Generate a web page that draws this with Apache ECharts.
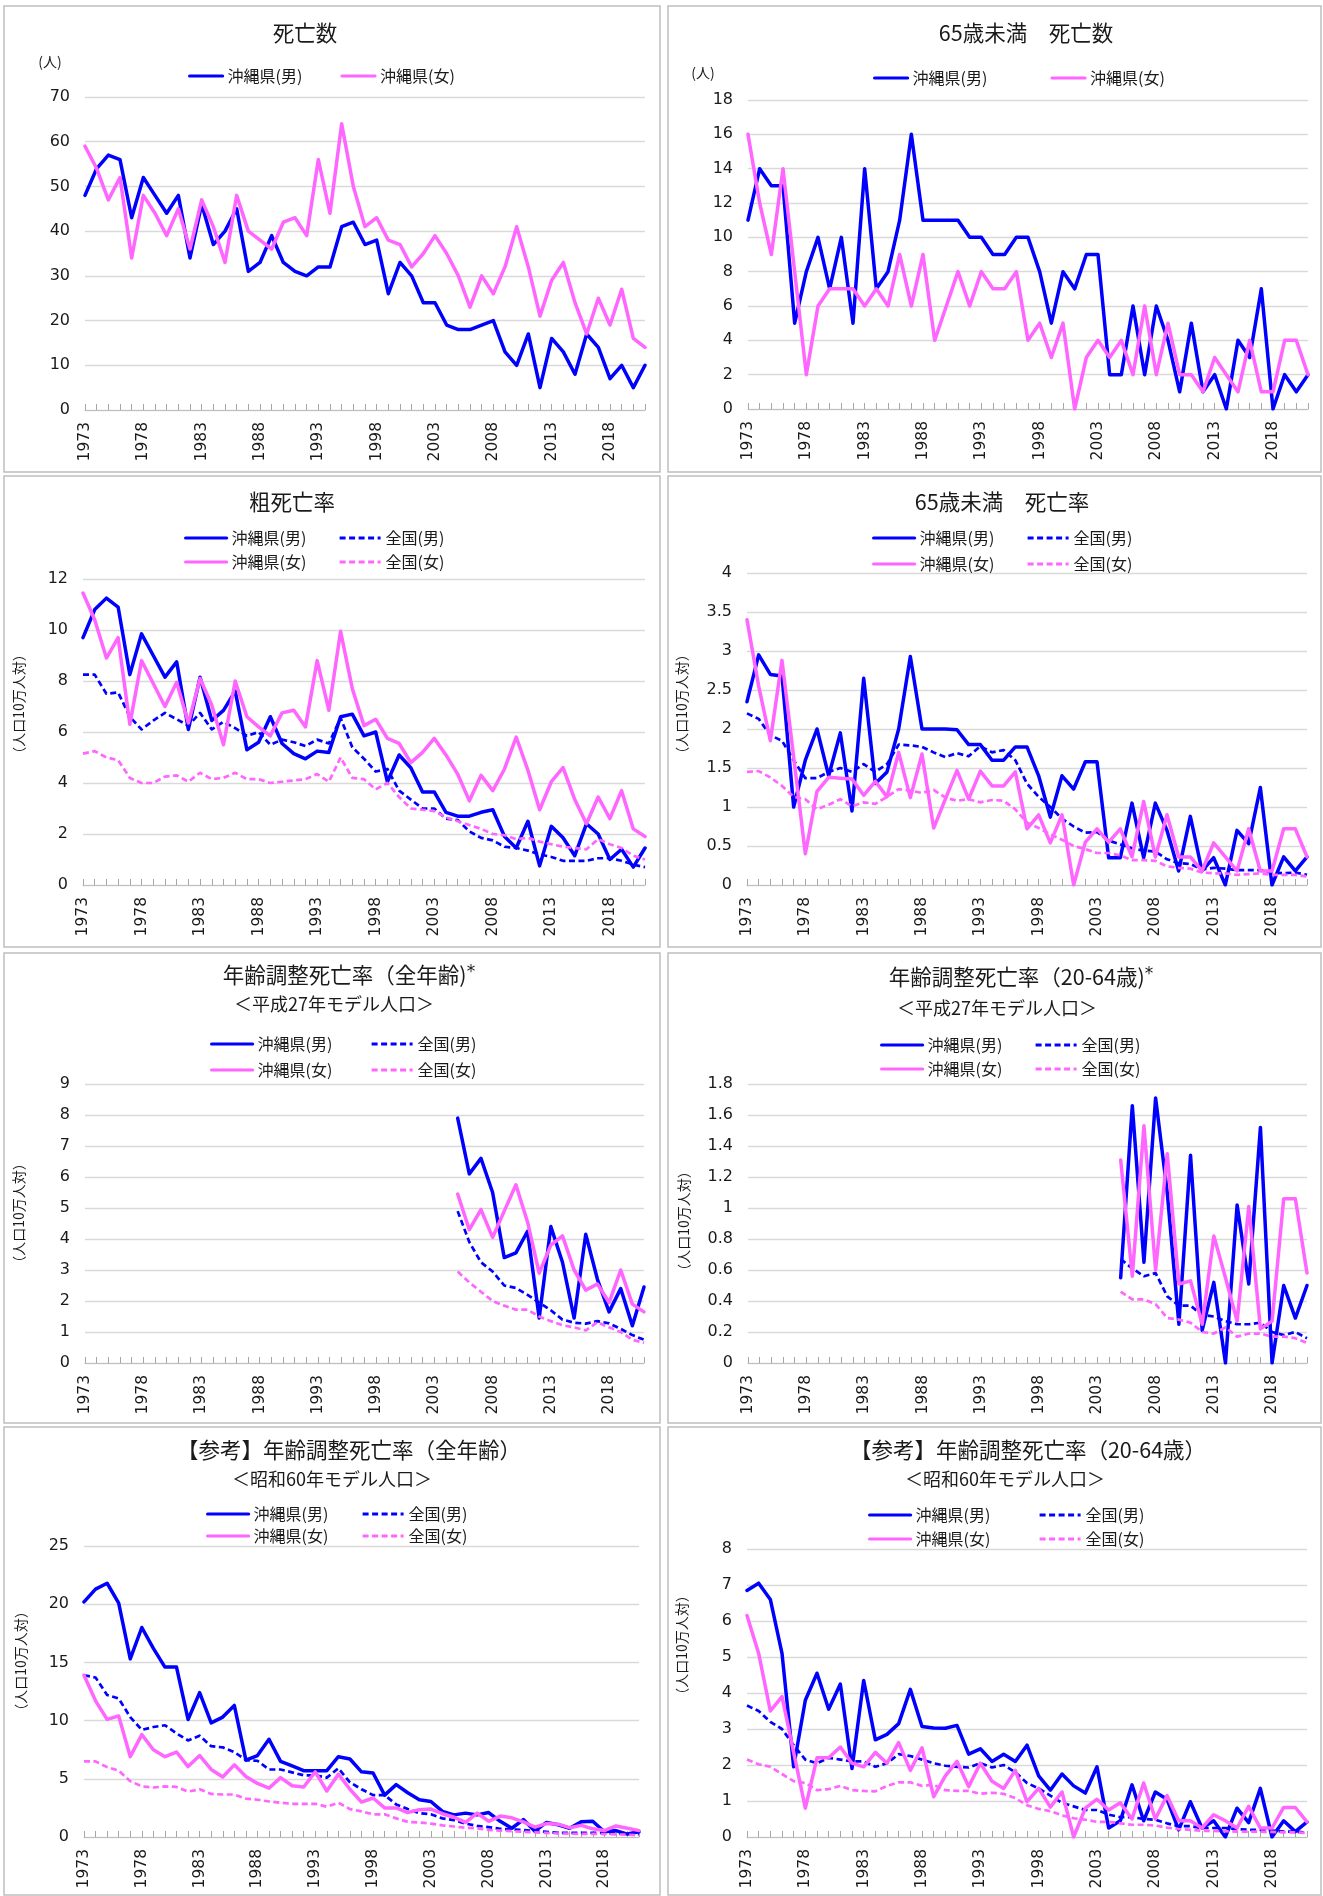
<!DOCTYPE html>
<html>
<head>
<meta charset="utf-8">
<title>沖縄県 死亡数・死亡率の推移</title>
<script src="https://cdn.jsdelivr.net/npm/echarts@6/dist/echarts.min.js"></script>
<style>
  html, body { margin: 0; padding: 0; background: #ffffff; }
  #chart { width: 1323px; height: 1896px; }
</style>
</head>
<body>
<div id="chart"></div>
<script>
// ---- categories (years) ----
const years = ['1973','1974','1975','1976','1977','1978','1979','1980','1981','1982',
  '1983','1984','1985','1986','1987','1988','1989','1990','1991','1992',
  '1993','1994','1995','1996','1997','1998','1999','2000','2001','2002',
  '2003','2004','2005','2006','2007','2008','2009','2010','2011','2012',
  '2013','2014','2015','2016','2017','2018','2019','2020','2021'];

// first year of the H27 model-population series
const h27StartYear = '2005';

// ---- 死亡数 (人) ----
const deathsMale = [48,54,57,56,43,52,48,44,48,34, 46,37,40,45,31,33,39,33,31,30,
  32,32,41,42,37,38,26,33,30,24, 24,19,18,18,19,20,13,10,17,5, 16,13,8,17,14,7,10,5,10];
const deathsFemale = [59,54,47,52,34,48,44,39,45,36, 47,41,33,48,40,38,36,42,43,39,
  56,44,64,50,41,43,38,37,32,35, 39,35,30,23,30,26,32,41,32,21, 29,33,24,17,25,19,27,16,14];

// ---- 65歳未満 死亡数 (人) ----
const u65DeathsMale = [11,14,13,13,5,8,10,7,10,5, 14,7,8,11,16,11,11,11,11,10,
  10,9,9,10,10,8,5,8,7,9, 9,2,2,6,2,6,4,1,5,1, 2,0,4,3,7,0,2,1,2];
const u65DeathsFemale = [16,12,9,14,8,2,6,7,7,7, 6,7,6,9,6,9,4,6,8,6,
  8,7,7,8,4,5,3,5,0,3, 4,3,4,2,6,2,5,2,2,1, 3,2,1,4,1,1,4,4,2];

// ---- 粗死亡率 (人口10万人対) ----
const crudeMale = [9.7,10.8,11.25,10.9,8.25,9.85,9.0,8.15,8.75,6.1, 8.15,6.45,6.85,7.6,5.3,5.6,6.6,5.55,5.15,4.95,
  5.25,5.2,6.6,6.7,5.85,6.0,4.05,5.1,4.6,3.65, 3.65,2.85,2.7,2.7,2.85,2.95,1.9,1.45,2.5,0.75,
  2.3,1.85,1.15,2.4,2.0,1.0,1.4,0.7,1.45];
const crudeFemale = [11.45,10.4,8.9,9.7,6.3,8.8,7.9,7.0,7.95,6.35, 8.1,7.05,5.5,8.0,6.6,6.2,5.85,6.75,6.85,6.2,
  8.8,6.85,9.95,7.7,6.25,6.5,5.75,5.55,4.8,5.2, 5.75,5.1,4.35,3.3,4.3,3.7,4.55,5.8,4.5,2.95,
  4.05,4.6,3.35,2.4,3.45,2.6,3.7,2.2,1.9];
const crudeNatMale = [8.25,8.25,7.5,7.55,6.6,6.1,6.45,6.75,6.5,6.25, 6.75,6.1,6.4,6.15,5.85,6.0,5.5,5.7,5.6,5.45,
  5.7,5.55,6.55,5.4,4.95,4.45,4.55,3.7,3.35,3.0, 3.0,2.6,2.55,2.1,1.85,1.75,1.5,1.45,1.35,1.2,
  1.1,0.95,0.95,0.95,1.05,1.05,0.95,0.8,0.7];
const crudeNatFemale = [5.15,5.25,5.0,4.9,4.2,4.0,4.0,4.25,4.3,4.05, 4.4,4.15,4.2,4.4,4.15,4.15,4.0,4.05,4.1,4.15,
  4.35,4.05,5.0,4.2,4.15,3.75,4.0,3.45,3.0,2.95, 2.9,2.65,2.5,2.35,2.2,2.0,1.95,1.8,1.85,1.7,
  1.6,1.5,1.45,1.4,1.8,1.6,1.45,1.15,1.0];

// ---- 65歳未満 死亡率 (人口10万人対) ----
const u65RateMale = [2.35,2.95,2.7,2.68,1.0,1.6,2.0,1.4,1.95,0.95, 2.65,1.3,1.45,2.0,2.93,2.0,2.0,2.0,1.99,1.8,
  1.8,1.6,1.6,1.77,1.77,1.4,0.87,1.4,1.23,1.58, 1.58,0.35,0.35,1.05,0.35,1.05,0.7,0.18,0.88,0.18,
  0.35,0,0.7,0.53,1.25,0,0.36,0.18,0.36];
const u65RateFemale = [3.4,2.55,1.85,2.88,1.64,0.4,1.2,1.38,1.37,1.36, 1.15,1.33,1.13,1.7,1.12,1.68,0.73,1.1,1.47,1.1,
  1.46,1.27,1.27,1.45,0.72,0.9,0.54,0.9,0,0.55, 0.72,0.55,0.72,0.36,1.07,0.36,0.9,0.36,0.36,0.18,
  0.54,0.36,0.18,0.72,0.18,0.18,0.72,0.72,0.36];
const u65RateNatMale = [2.2,2.13,1.92,1.85,1.6,1.37,1.37,1.45,1.5,1.45, 1.55,1.45,1.55,1.8,1.79,1.77,1.7,1.64,1.69,1.65,
  1.78,1.7,1.73,1.6,1.3,1.13,1.0,0.85,0.75,0.67, 0.68,0.57,0.52,0.47,0.44,0.43,0.33,0.28,0.27,0.2,
  0.22,0.21,0.19,0.19,0.19,0.16,0.15,0.16,0.13];
const u65RateNatFemale = [1.45,1.46,1.38,1.27,1.13,1.1,0.97,1.03,1.1,1.01, 1.06,1.04,1.13,1.23,1.21,1.18,1.22,1.12,1.08,1.1,
  1.06,1.09,1.08,0.97,0.8,0.73,0.65,0.58,0.5,0.46, 0.41,0.41,0.38,0.32,0.32,0.31,0.24,0.22,0.21,0.16,
  0.15,0.15,0.13,0.14,0.15,0.13,0.13,0.13,0.11];

// ---- 年齢調整死亡率 (全年齢) 平成27年モデル人口, 2005-2021 ----
const adjH27Male = [7.9,6.1,6.6,5.5,3.4,3.55,4.25,1.45,4.4,3.25,1.45,4.15,2.7,1.65,2.4,1.2,2.45];
const adjH27Female = [5.45,4.3,4.95,4.05,4.9,5.75,4.55,2.9,3.8,4.1,3.0,2.35,2.55,1.95,3.0,1.9,1.65];
const adjH27NatMale = [4.9,3.9,3.25,2.95,2.5,2.42,2.2,1.95,1.7,1.4,1.3,1.27,1.35,1.28,1.1,0.9,0.75];
const adjH27NatFemale = [2.95,2.6,2.3,2.0,1.85,1.72,1.72,1.5,1.35,1.22,1.15,1.05,1.32,1.15,1.0,0.75,0.65];

// ---- 年齢調整死亡率 (20-64歳) 平成27年モデル人口, 2005-2021 ----
const adj2064H27Male = [0.55,1.66,0.65,1.71,1.1,0.25,1.34,0.21,0.52,0,1.02,0.51,1.52,0,0.5,0.29,0.5];
const adj2064H27Female = [1.31,0.56,1.53,0.6,1.35,0.51,0.53,0.25,0.82,0.55,0.27,1.01,0.22,0.27,1.06,1.06,0.58];
const adj2064H27NatMale = [0.67,0.61,0.56,0.58,0.43,0.37,0.37,0.31,0.3,0.27,0.25,0.25,0.26,0.2,0.18,0.2,0.16];
const adj2064H27NatFemale = [0.46,0.41,0.41,0.38,0.29,0.28,0.26,0.2,0.19,0.23,0.17,0.19,0.19,0.17,0.17,0.16,0.13];

// ---- 【参考】年齢調整死亡率 (全年齢) 昭和60年モデル人口 ----
const refAdjMale = [20.2,21.3,21.8,20.1,15.3,18.0,16.2,14.6,14.6,10.1, 12.4,9.8,10.3,11.3,6.6,7.0,8.4,6.5,6.1,5.7,
  5.7,5.7,6.9,6.7,5.6,5.5,3.6,4.5,3.8,3.2, 3.05,2.2,1.9,2.05,1.9,2.1,1.35,0.75,1.5,0.5,
  1.25,1.05,0.75,1.3,1.35,0.45,0.55,0.25,0.45];
const refAdjFemale = [13.9,11.7,10.1,10.4,6.9,8.8,7.5,6.9,7.3,6.05, 7.0,5.8,5.15,6.2,5.2,4.6,4.2,5.1,4.4,4.3,
  5.6,3.95,5.4,4.1,3.0,3.35,2.5,2.5,2.1,2.35, 2.4,2.0,1.7,1.25,2.05,1.35,1.8,1.65,1.3,0.85,
  1.15,1.1,0.8,1.0,0.7,0.55,0.95,0.75,0.55];
const refAdjNatMale = [13.9,13.7,12.2,11.9,10.3,9.2,9.45,9.6,8.9,8.3, 8.7,7.8,7.7,7.3,6.6,6.55,5.8,5.8,5.55,5.3,
  5.3,5.1,5.9,4.7,4.1,3.6,3.6,2.8,2.4,2.05, 1.95,1.6,1.45,1.15,0.95,0.85,0.7,0.65,0.6,0.5,
  0.45,0.35,0.35,0.35,0.35,0.35,0.3,0.3,0.25];
const refAdjNatFemale = [6.5,6.5,6.0,5.7,4.8,4.35,4.25,4.35,4.3,3.9, 4.1,3.7,3.65,3.65,3.3,3.2,3.05,2.95,2.85,2.85,
  2.85,2.6,2.95,2.4,2.2,1.95,1.95,1.6,1.3,1.25, 1.15,1.0,0.9,0.8,0.75,0.6,0.55,0.5,0.45,0.4,
  0.35,0.3,0.28,0.27,0.27,0.25,0.22,0.2,0.15];

// ---- 【参考】年齢調整死亡率 (20-64歳) 昭和60年モデル人口 ----
const ref2064Male = [6.85,7.05,6.6,5.1,1.95,3.8,4.55,3.55,4.25,1.9, 4.35,2.7,2.85,3.15,4.1,3.07,3.03,3.02,3.1,2.3,
  2.45,2.1,2.3,2.1,2.55,1.7,1.3,1.75,1.42,1.22, 1.95,0.25,0.45,1.45,0.45,1.25,1.05,0.2,0.98,0.25,
  0.45,0,0.8,0.4,1.35,0,0.45,0.15,0.42];
const ref2064Female = [6.15,5.1,3.5,3.9,2.35,0.8,2.2,2.2,2.5,2.05, 1.95,2.35,2.05,2.62,1.85,2.48,1.12,1.7,2.1,1.4,
  2.05,1.55,1.35,1.85,0.98,1.35,0.83,1.25,0,0.8, 1.05,0.75,0.95,0.5,1.5,0.5,1.15,0.45,0.45,0.25,
  0.62,0.45,0.25,0.85,0.25,0.25,0.82,0.82,0.42];
const ref2064NatMale = [3.65,3.5,3.2,3.0,2.55,2.15,2.05,2.2,2.15,2.1, 2.1,1.95,2.05,2.3,2.25,2.15,2.05,1.98,1.95,1.93,
  2.05,1.93,2.0,1.8,1.5,1.35,1.15,0.95,0.85,0.75, 0.75,0.62,0.55,0.55,0.5,0.48,0.38,0.3,0.3,0.25,
  0.25,0.25,0.22,0.2,0.2,0.18,0.15,0.15,0.12];
const ref2064NatFemale = [2.15,2.02,1.95,1.75,1.55,1.5,1.3,1.33,1.42,1.3, 1.28,1.27,1.42,1.52,1.52,1.42,1.45,1.3,1.28,1.28,
  1.2,1.23,1.2,1.08,0.88,0.78,0.72,0.6,0.52,0.48, 0.42,0.42,0.38,0.34,0.34,0.32,0.26,0.22,0.2,0.17,
  0.17,0.16,0.15,0.15,0.15,0.14,0.13,0.13,0.11];

// ---- styling ----
const BLUE = '#0000FF';
const PINK = '#FF66FF';
const FONT_JP = '"Noto Sans CJK JP", "Noto Sans", sans-serif';
const FONT_NUM = '"DejaVu Sans", Verdana, sans-serif';
const TEXT = '#1a1a1a';

const N_OKI_M = '沖縄県(男)', N_OKI_F = '沖縄県(女)', N_NAT_M = '全国(男)', N_NAT_F = '全国(女)';
const Y_NAME = '（人口10万人対）';

// series that only start in 2005 are padded with gaps before that year
const h27Offset = years.indexOf(h27StartYear);
function fromH27(arr) {
  return years.map((y, i) => (i < h27Offset ? null : arr[i - h27Offset]));
}

// ---- panel layout ----
const panels = [
  { grid: { left: 85, top: 97, width: 560, height: 313 }, max: 70, step: 10,
    title: '死亡数', tx: 305, ty: 33, unit: { text: '(人)', x: 50, y: 62 },
    legend: { rows: 1, left: 188, top: 68, w: 33, gap: 38 },
    series: [[N_OKI_M, deathsMale], [N_OKI_F, deathsFemale]] },
  { grid: { left: 748, top: 100, width: 560, height: 309 }, max: 18, step: 2,
    title: '65歳未満　死亡数', tx: 1026, ty: 33, unit: { text: '(人)', x: 703, y: 73 },
    legend: { rows: 1, left: 873, top: 70, w: 33, gap: 63 },
    series: [[N_OKI_M, u65DeathsMale], [N_OKI_F, u65DeathsFemale]] },
  { grid: { left: 83, top: 579, width: 562, height: 306 }, max: 12, step: 2,
    title: '粗死亡率', tx: 292, ty: 502, yName: { x: 19, y: 704 },
    legend: { rows: 2, c1: 184, c2: 338, top: 530, w: 41, vgap: 8 },
    series: [[N_OKI_M, crudeMale], [N_NAT_M, crudeNatMale], [N_OKI_F, crudeFemale], [N_NAT_F, crudeNatFemale]] },
  { grid: { left: 747, top: 573, width: 560, height: 312 }, max: 4, step: 0.5,
    title: '65歳未満　死亡率', tx: 1002, ty: 502, yName: { x: 682, y: 704 },
    legend: { rows: 2, c1: 872, c2: 1026, top: 530, w: 41, vgap: 10 },
    series: [[N_OKI_M, u65RateMale], [N_NAT_M, u65RateNatMale], [N_OKI_F, u65RateFemale], [N_NAT_F, u65RateNatFemale]] },
  { grid: { left: 85, top: 1084, width: 559, height: 279 }, max: 9, step: 1,
    title: '年齢調整死亡率（全年齢){s|*}', tx: 349, ty: 975,
    sub: '＜平成27年モデル人口＞', sx: 334, sy: 1005, yName: { x: 19, y: 1213 },
    legend: { rows: 2, c1: 210, c2: 370, top: 1036, w: 41, vgap: 10 },
    series: [[N_OKI_M, fromH27(adjH27Male)], [N_NAT_M, fromH27(adjH27NatMale)],
             [N_OKI_F, fromH27(adjH27Female)], [N_NAT_F, fromH27(adjH27NatFemale)]] },
  { grid: { left: 748, top: 1084, width: 559, height: 279 }, max: 1.8, step: 0.2,
    title: '年齢調整死亡率（20-64歳){s|*}', tx: 1021, ty: 977,
    sub: '＜平成27年モデル人口＞', sx: 997, sy: 1009, yName: { x: 684, y: 1221 },
    legend: { rows: 2, c1: 880, c2: 1034, top: 1037, w: 41, vgap: 8 },
    series: [[N_OKI_M, fromH27(adj2064H27Male)], [N_NAT_M, fromH27(adj2064H27NatMale)],
             [N_OKI_F, fromH27(adj2064H27Female)], [N_NAT_F, fromH27(adj2064H27NatFemale)]] },
  { grid: { left: 84, top: 1546, width: 555, height: 291 }, max: 25, step: 5,
    title: '【参考】年齢調整死亡率（全年齢）', tx: 349, ty: 1450,
    sub: '＜昭和60年モデル人口＞', sx: 332, sy: 1480, yName: { x: 21, y: 1661 },
    legend: { rows: 2, c1: 206, c2: 361, top: 1506, w: 41, vgap: 6 },
    series: [[N_OKI_M, refAdjMale], [N_NAT_M, refAdjNatMale], [N_OKI_F, refAdjFemale], [N_NAT_F, refAdjNatFemale]] },
  { grid: { left: 747, top: 1549, width: 560, height: 288 }, max: 8, step: 1,
    title: '【参考】年齢調整死亡率（20-64歳）', tx: 1028, ty: 1450,
    sub: '＜昭和60年モデル人口＞', sx: 1005, sy: 1480, yName: { x: 682, y: 1645 },
    legend: { rows: 2, c1: 868, c2: 1038, top: 1507, w: 41, vgap: 8 },
    series: [[N_OKI_M, ref2064Male], [N_NAT_M, ref2064NatMale], [N_OKI_F, ref2064Female], [N_NAT_F, ref2064NatFemale]] }
];

// panel frames
const frames = [
  [4, 6, 656, 466], [668, 6, 653, 466],
  [4, 476, 656, 471], [668, 476, 653, 471],
  [4, 953, 656, 470], [668, 953, 653, 470],
  [4, 1427, 656, 468], [668, 1427, 653, 468]
];

const seriesStyle = {
  [N_OKI_M]: { color: BLUE, dashed: false },
  [N_OKI_F]: { color: PINK, dashed: false },
  [N_NAT_M]: { color: BLUE, dashed: true },
  [N_NAT_F]: { color: PINK, dashed: true }
};

const option = {
  animation: false,
  backgroundColor: '#ffffff',
  textStyle: { fontFamily: FONT_JP },
  grid: [], xAxis: [], yAxis: [], series: [], title: [], legend: [], graphic: []
};

const legendText = { fontSize: 16, color: TEXT, fontFamily: FONT_JP };
// legend keys show only the line (the point marker is hidden)
const legendCommon = {
  padding: 0, itemHeight: 14, selectedMode: false, textStyle: legendText,
  itemStyle: { opacity: 0 },
  lineStyle: { width: 3.2 }
};

panels.forEach((p, i) => {
  option.grid.push(Object.assign({ containLabel: false }, p.grid));

  option.xAxis.push({
    type: 'category', gridIndex: i, data: years, boundaryGap: false,
    axisLine: { show: true, lineStyle: { color: '#BFBFBF', width: 1.2 } },
    axisTick: { show: true, inside: true, length: 6, interval: 0, lineStyle: { color: '#A6A6A6', width: 1 } },
    axisLabel: { interval: 4, rotate: 90, margin: 12, fontSize: 15.5, color: TEXT, fontFamily: FONT_NUM },
    splitLine: { show: false }
  });

  option.yAxis.push({
    type: 'value', gridIndex: i, min: 0, max: p.max, interval: p.step,
    axisLine: { show: false }, axisTick: { show: false },
    axisLabel: { margin: 15, fontSize: 16, color: TEXT, fontFamily: FONT_NUM },
    splitLine: { show: true, lineStyle: { color: '#D9D9D9', width: 1.3 } }
  });

  p.series.forEach(([name, data]) => {
    const st = seriesStyle[name];
    option.series.push({
      type: 'line', name, data, xAxisIndex: i, yAxisIndex: i,
      symbol: 'none', showSymbol: false, connectNulls: false, silent: true,
      itemStyle: { color: st.color },
      lineStyle: st.dashed
        ? { color: st.color, width: 2.7, type: [6, 3.5], cap: 'butt', join: 'round' }
        : { color: st.color, width: 3.5, type: 'solid', cap: 'round', join: 'round' }
    });
  });

  // titles
  option.title.push({
    text: p.title, left: p.tx, top: p.ty - 11, textAlign: 'center', padding: 0,
    textStyle: {
      fontSize: 21.5, fontWeight: 'normal', color: TEXT, fontFamily: FONT_JP,
      rich: { s: { fontSize: 17, verticalAlign: 'top', color: TEXT, fontFamily: FONT_NUM } }
    }
  });
  if (p.sub) {
    option.title.push({
      text: p.sub, left: p.sx, top: p.sy - 9.5, textAlign: 'center', padding: 0,
      textStyle: { fontSize: 18, fontWeight: 'normal', color: TEXT, fontFamily: FONT_JP }
    });
  }

  // legends
  const L = p.legend;
  if (L.rows === 1) {
    option.legend.push(Object.assign({}, legendCommon, {
      orient: 'horizontal', left: L.left, top: L.top,
      itemWidth: L.w, itemGap: L.gap, data: p.series.map(s => s[0])
    }));
  } else {
    option.legend.push(Object.assign({}, legendCommon, {
      orient: 'vertical', left: L.c1, top: L.top,
      itemWidth: L.w, itemGap: L.vgap, data: [N_OKI_M, N_OKI_F]
    }));
    option.legend.push(Object.assign({}, legendCommon, {
      orient: 'vertical', left: L.c2, top: L.top,
      itemWidth: L.w, itemGap: L.vgap, data: [N_NAT_M, N_NAT_F]
    }));
  }

  // axis unit captions
  if (p.unit) {
    option.graphic.push({
      type: 'text', x: p.unit.x, y: p.unit.y, silent: true,
      style: { text: p.unit.text, fontSize: 14, fontFamily: FONT_JP, fill: TEXT, align: 'center', verticalAlign: 'middle' }
    });
  }
  if (p.yName) {
    option.graphic.push({
      type: 'text', x: p.yName.x, y: p.yName.y, rotation: Math.PI / 2, silent: true,
      style: { text: Y_NAME, fontSize: 14, fontFamily: FONT_JP, fill: TEXT, align: 'center', verticalAlign: 'middle' }
    });
  }
});

frames.forEach(([x, y, w, h]) => {
  option.graphic.push({
    type: 'rect', silent: true, z: -1,
    shape: { x, y, width: w, height: h },
    style: { fill: 'none', stroke: '#BFBFBF', lineWidth: 1.5 }
  });
});

const chart = echarts.init(document.getElementById('chart'), null, { renderer: 'canvas' });
chart.setOption(option);
</script>
</body>
</html>
